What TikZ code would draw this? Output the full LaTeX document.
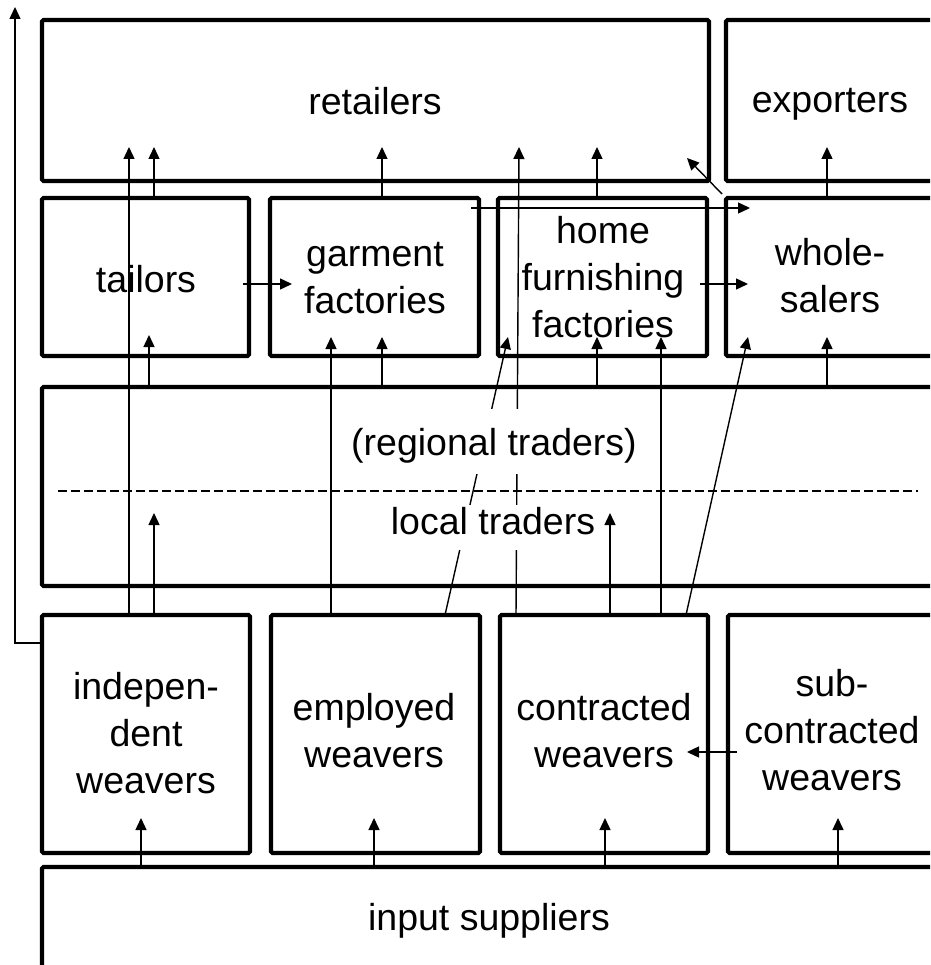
\documentclass[tikz,border=0pt]{standalone}
\usepackage{fontspec}
\setmainfont{Liberation Sans}
\usetikzlibrary{arrows.meta}
\tikzset{
  box/.style={draw, line width=4.2pt, rounded corners=1.5pt, inner sep=0pt, outer sep=0pt, anchor=north west},
  arr/.style={line width=1.4pt, -{Triangle[length=12pt,width=11pt]}},
  lbl/.style={font=\fontsize{37.5}{47}\selectfont, align=center, anchor=base, inner sep=0pt},
  mask/.style={fill=white, inner xsep=3pt, inner ysep=0pt},
  dashline/.style={line width=2.4pt, dash pattern=on 9pt off 4pt}
}
\begin{document}
\begin{tikzpicture}[x=1pt,y=-1pt]
\useasboundingbox (0,0) rectangle (930,965);
\clip (0,0) rectangle (930,965);
% boxes
\node[box, minimum width=667pt, minimum height=161pt] (retailers) at (42,20) {};
\node[box, minimum width=230pt, minimum height=161pt] (exporters) at (726,20) {};
\node[box, minimum width=207pt, minimum height=158pt] (tailors) at (42,198) {};
\node[box, minimum width=209pt, minimum height=158pt] (garment) at (270,198) {};
\node[box, minimum width=209pt, minimum height=158pt] (home) at (498,198) {};
\node[box, minimum width=230pt, minimum height=158pt] (wholesalers) at (726,198) {};
\node[box, minimum width=920pt, minimum height=199pt] (traders) at (42,387) {};
\node[box, minimum width=208pt, minimum height=238pt] (indep) at (42,615) {};
\node[box, minimum width=209pt, minimum height=238pt] (employed) at (271,615) {};
\node[box, minimum width=208pt, minimum height=238pt] (contracted) at (500,615) {};
\node[box, minimum width=230pt, minimum height=238pt] (subcon) at (728,615) {};
\node[box, minimum width=920pt, minimum height=200pt] (input) at (42,867) {};
% dashed divider
\coordinate (dashL) at (58,491);
\coordinate (dashR) at (918,491);
\draw[dashline] (dashL) -- (dashR);
% long bypass arrow
\coordinate (topL) at (15,7);
\draw[arr] (42,643) -| (topL);
% arrows
\draw[arr] (129,0 |- indep.north) -- (129,147);
\draw[arr] (154,0 |- tailors.north) -- (154,147);
\draw[arr] (154,0 |- indep.north) -- (154,513);
\draw[arr] (149,0 |- traders.north) -- (149,335);
\draw[arr] (243,284) -- (292,284);
\draw[arr] (331,0 |- employed.north) -- (331,337);
\draw[arr] (382,0 |- traders.north) -- (382,337);
\draw[arr] (382,0 |- garment.north) -- (382,147);
\draw[arr] (471,208) -- (750,208);
\draw[arr] (445,0 |- employed.north) -- (508,337);
\draw[arr] (516,0 |- contracted.north) -- (519,147);
\draw[arr] (597,0 |- traders.north) -- (597,337);
\draw[arr] (597,0 |- home.north) -- (597,147);
\draw[arr] (661,0 |- contracted.north) -- (661,337);
\draw[arr] (686,0 |- contracted.north) -- (748,337);
\draw[arr] (700,284) -- (748,284);
\draw[arr] (722,194) -- (687,158);
\draw[arr] (827,0 |- traders.north) -- (827,337);
\draw[arr] (827,0 |- wholesalers.north) -- (827,147);
\draw[arr] (610,0 |- contracted.north) -- (610,513);
\draw[arr] (737,752) -- (687,752);
\draw[arr] (141,0 |- input.north) -- (141,818);
\draw[arr] (374,0 |- input.north) -- (374,818);
\draw[arr] (605,0 |- input.north) -- (605,818);
\draw[arr] (838,0 |- input.north) -- (838,818);
% labels (base = baseline of last line)
\node[lbl] (tRet) at (375,115) {retailers};
\node[lbl] (tExp) at (830,113) {exporters};
\node[lbl] (tTai) at (146,292) {tailors};
\node[lbl] (tGar) at (375,313) {garment\\factories};
\node[lbl] (tHom) at (603,337) {home\\furnishing\\factories};
\node[lbl] (tWho) at (830,312) {whole-\\salers};
\node[lbl, mask, text height=46pt, text depth=19pt] (tReg) at (494,455) {(regional traders)};
\node[lbl, mask, text height=29pt, text depth=16pt] (tLoc) at (493,534) {local traders};
\node[lbl] (tInd) at (146,793) {indepen-\\dent\\weavers};
\node[lbl] (tEmp) at (374,767) {employed\\weavers};
\node[lbl] (tCon) at (604,767) {contracted\\weavers};
\node[lbl] (tSub) at (832,790) {sub-\\contracted\\weavers};
\node[lbl] (tInp) at (489,930) {input suppliers};
\end{tikzpicture}
\end{document}
